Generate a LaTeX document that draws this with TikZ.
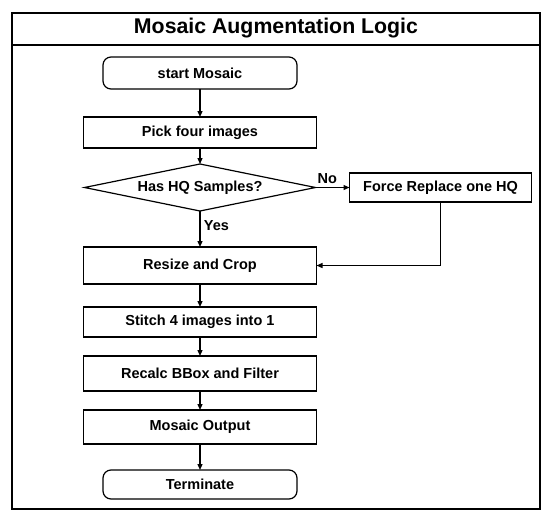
\documentclass[tikz,border=0pt]{standalone}
\usepackage{fontspec}
\setmainfont{Liberation Sans}
\usetikzlibrary{shapes.geometric, arrows.meta, positioning}

\begin{document}
\begin{tikzpicture}[x=1pt, y=1pt, node distance=20pt,
    every node/.style={font=\fontsize{14.5}{17}\selectfont\bfseries},
    procbox/.style={draw, rectangle, line width=1.2pt, outer sep=0pt, minimum width=233pt, minimum height=32pt},
    termbox/.style={draw, rectangle, rounded corners=8pt, line width=1.2pt, outer sep=0pt, minimum width=194pt, minimum height=31pt},
    decbox/.style={draw, diamond, aspect=4.9, inner sep=0pt, line width=1.2pt, outer sep=0pt, minimum width=231pt, minimum height=47pt},
    flow/.style={-{Triangle[length=6pt, width=5pt]}, line width=1.2pt}]
    \useasboundingbox (0,0) rectangle (550,-523);

    % Frame and Title
    \draw[line width=1.5pt] (12,-13) rectangle (540,-509);
    \draw[line width=1.5pt] (12,-45) -- (540,-45);
    \node (title) at (276,-28) [font=\fontsize{21.3}{25}\selectfont\bfseries] {Mosaic Augmentation Logic};

    % Main Column
    \node (start) at (200,-73) [termbox, minimum height=32pt] {start Mosaic};
    \node (pick) [procbox, below=28pt of start, minimum height=31pt] {Pick four images};
    \node (check) [decbox, below=16pt of pick] {Has HQ Samples?};
    \node (resize) [procbox, below=36pt of check, minimum height=37pt] {Resize and Crop};
    \node (stitch) [procbox, below=23pt of resize, minimum height=30pt] {Stitch 4 images into 1};
    \node (recalc) [procbox, below=19pt of stitch, minimum height=35pt] {Recalc BBox and Filter};
    \node (output) [procbox, below=19pt of recalc, minimum height=34pt] {Mosaic Output};
    \node (stop) [termbox, below=26pt of output, minimum height=29pt] {Terminate};

    % Side Branch
    \node (force) [procbox, right=34pt of check, minimum width=182pt, minimum height=29pt] {Force Replace one HQ};

    % Connectors
    \draw[flow] (start) -- (pick);
    \draw[flow] (pick) -- (check);
    \draw[flow] (check.south) -- node[right, pos=0.4] {Yes} (resize.north);
    \draw[flow] (check.east) -- node[above, pos=0.35] {No} (force.west);
    \draw[flow] (force.south) |- (resize.east);
    \draw[flow] (resize) -- (stitch);
    \draw[flow] (stitch) -- (recalc);
    \draw[flow] (recalc) -- (output);
    \draw[flow] (output) -- (stop);
\end{tikzpicture}
\end{document}
